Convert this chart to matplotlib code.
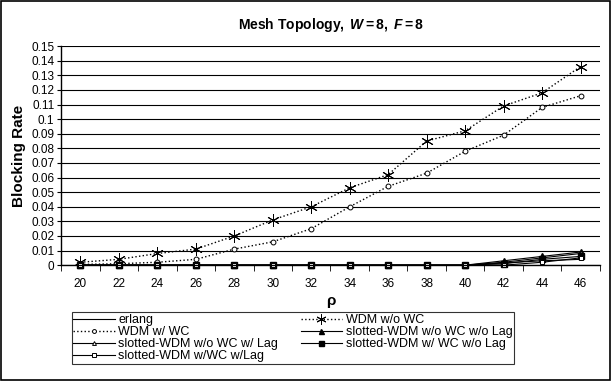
import numpy as np
import matplotlib
matplotlib.use("Agg")
import matplotlib.pyplot as plt

plt.rcParams['font.family'] = ['Liberation Sans', 'DejaVu Sans']
plt.rcParams['mathtext.fontset'] = 'custom'
plt.rcParams['mathtext.bfit'] = 'Liberation Sans:bold:italic'
plt.rcParams['mathtext.rm'] = 'Liberation Sans'
plt.rcParams['mathtext.it'] = 'Liberation Sans:italic'
plt.rcParams['mathtext.bf'] = 'Liberation Sans:bold'

rho = [20, 22, 24, 26, 28, 30, 32, 34, 36, 38, 40, 42, 44, 46]
erlang = [0, 0, 0, 0, 0, 0, 0, 0, 0, 0, 0, 0.0015, 0.003, 0.004]
wdm_wc = [0.0005, 0.001, 0.002, 0.004, 0.011, 0.016, 0.025, 0.040, 0.054, 0.063, 0.078, 0.089, 0.108, 0.116]
wdm_nowc = [0.002, 0.004, 0.008, 0.011, 0.020, 0.031, 0.040, 0.053, 0.062, 0.085, 0.092, 0.109, 0.118, 0.136]
s_nowc_nolag = [0, 0, 0, 0, 0, 0, 0, 0, 0, 0, 0, 0.003, 0.006, 0.009]
s_nowc_lag = [0, 0, 0, 0, 0, 0, 0, 0, 0, 0, 0, 0.002, 0.005, 0.008]
s_wc_nolag = [0, 0, 0, 0, 0, 0, 0, 0, 0, 0, 0, 0.001, 0.004, 0.006]
s_wc_lag = [0, 0, 0, 0, 0, 0, 0, 0, 0, 0, 0, 0.0, 0.002, 0.005]

fig = plt.figure(figsize=(6.12, 3.81), dpi=100)
ax = fig.add_axes([0.1, 0.304, 0.88, 0.575])
x = np.arange(len(rho))

kw = dict(color='black', clip_on=False)
l1, = ax.plot(x, erlang, '-', lw=0.8, **kw)
l2, = ax.plot(x, wdm_wc, ':', lw=1, marker='o', ms=3.5, mfc='white', mew=0.7, **kw)
l3, = ax.plot(x, wdm_nowc, ':', lw=1, marker=(6, 2, 0), ms=9, mew=0.7, **kw)
l4, = ax.plot(x, s_nowc_nolag, '-', lw=0.8, marker='^', ms=4.5, **kw)
l5, = ax.plot(x, s_nowc_lag, '-', lw=0.8, marker='^', ms=3.5, mfc='white', mew=0.7, **kw)
l6, = ax.plot(x, s_wc_nolag, '-', lw=0.8, marker='s', ms=4.5, **kw)
l7, = ax.plot(x, s_wc_lag, '-', lw=0.8, marker='s', ms=3.5, mfc='white', mew=0.7, **kw)

ax.set_xlim(-0.5, len(rho) - 0.5)
ax.set_ylim(0, 0.15)
ax.set_yticks(np.arange(0, 0.151, 0.01))
ax.set_yticklabels(['0'] + ['%g' % v for v in np.round(np.arange(0.01, 0.151, 0.01), 2)], fontsize=8.5)
ax.set_xticks(x)
ax.set_xticklabels([str(r) for r in rho], fontsize=8.5)
ax.set_xticks(np.arange(-0.5, len(rho), 1), minor=True)
ax.tick_params(axis='x', which='major', length=0, pad=9)
ax.tick_params(axis='x', which='minor', length=4, direction='out')
ax.tick_params(axis='y', length=3, direction='out', pad=2)
ax.grid(axis='y', color='black', lw=0.8)
ax.set_axisbelow(True)
for s in ['top', 'right']:
    ax.spines[s].set_visible(False)
for s in ['left', 'bottom']:
    ax.spines[s].set_linewidth(1)

ax.set_title(r'$\mathbf{Mesh\ Topology,\ }\mathbfit{W}\mathbf{=8,\ }\mathbfit{F}\mathbf{=8}$', fontsize=10, pad=12)
ax.set_ylabel('Blocking Rate', fontsize=11, fontweight='bold', labelpad=4)
ax.set_xlabel('ρ', fontsize=11, fontweight='bold', labelpad=3)

leg = fig.legend([l1, l2, l5, l7, l3, l4, l6],
                 ['erlang', 'WDM w/ WC', 'slotted-WDM w/o WC w/ Lag', 'slotted-WDM w/WC w/Lag',
                  'WDM w/o WC', 'slotted-WDM w/o WC w/o Lag', 'slotted-WDM w/ WC w/o Lag'],
                 ncol=2, loc='upper left', bbox_to_anchor=(0.117, 0.18), fontsize=9,
                 frameon=True, fancybox=False, edgecolor='black', borderpad=0.15,
                 labelspacing=0.0, handlelength=3.3, handletextpad=0.3, columnspacing=1.8,
                 borderaxespad=0, markerscale=0.8)
leg.get_frame().set_linewidth(0.8)

fig.patches.append(plt.Rectangle((0.002, 0.003), 0.995, 0.994, transform=fig.transFigure,
                                 fill=False, edgecolor='black', lw=1.2))
fig.savefig('out.png', dpi=100)
